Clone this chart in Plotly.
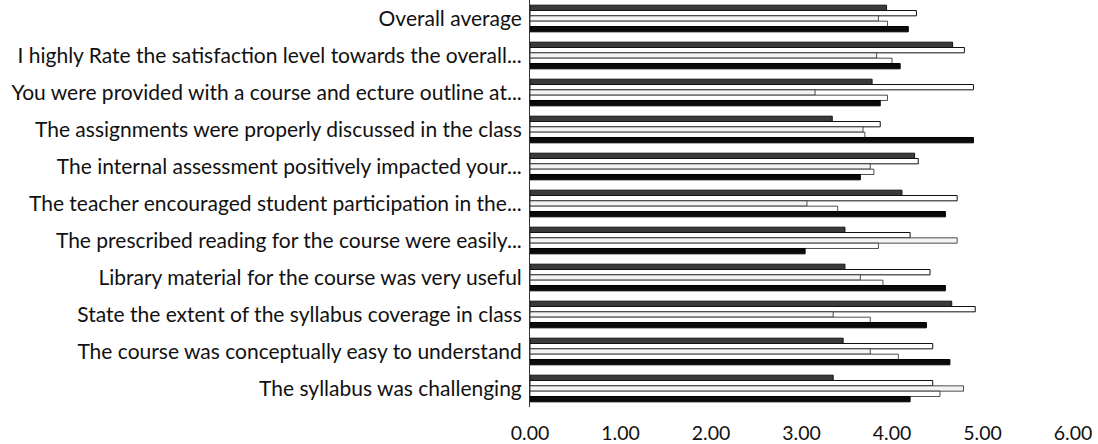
import plotly.graph_objects as go

categories = [
    "Overall average",
    "I highly Rate the satisfaction level towards the overall...",
    "You were provided with a course and ecture outline at...",
    "The assignments were properly discussed in the class",
    "The internal assessment positively impacted your...",
    "The teacher encouraged student participation in the...",
    "The prescribed reading for the course were easily...",
    "Library material for the course was very useful",
    "State the extent of the syllabus coverage in class",
    "The course was conceptually easy to understand",
    "The syllabus was challenging",
]

series_1 = [3.94, 4.67, 3.78, 3.34, 4.25, 4.11, 3.48, 3.48, 4.66, 3.46, 3.35]
series_2 = [4.27, 4.80, 4.90, 3.87, 4.29, 4.72, 4.20, 4.42, 4.92, 4.45, 4.45]
series_3 = [3.85, 3.83, 3.15, 3.68, 3.76, 3.06, 4.72, 3.65, 3.35, 3.76, 4.79]
series_4 = [3.95, 4.00, 3.95, 3.70, 3.80, 3.40, 3.85, 3.90, 3.76, 4.07, 4.53]
series_5 = [4.18, 4.09, 3.87, 4.90, 3.65, 4.59, 3.04, 4.59, 4.38, 4.64, 4.20]

x_ticks = [0, 1, 2, 3, 4, 5, 6]

styles = [
    dict(color="#3a3a3a", line=dict(color="#111", width=1)),
    dict(color="#ffffff", line=dict(color="#111", width=1)),
    dict(color="#f4f4f4", line=dict(color="#222", width=0.8)),
    dict(color="#ffffff", line=dict(color="#222", width=0.8)),
    dict(color="#0a0a0a", line=dict(color="#000", width=1)),
]

fig = go.Figure()
for name, vals, st in zip(["S1", "S2", "S3", "S4", "S5"],
                          [series_1, series_2, series_3, series_4, series_5], styles):
    fig.add_trace(go.Bar(y=categories, x=vals, orientation="h", name=name,
                         marker=st, showlegend=False))

fig.update_layout(
    width=1098, height=444,
    margin=dict(l=530, r=25, t=0, b=37),
    barmode="group", bargap=0.28, bargroupgap=0,
    plot_bgcolor="white", paper_bgcolor="white",
    font=dict(family="Lato", size=21, color="#111"),
)
fig.update_xaxes(range=[0, 6], tickvals=x_ticks, tickformat=".2f",
                 showgrid=False, zeroline=False, showline=False,
                 ticks="outside", ticklen=9, tickcolor="rgba(0,0,0,0)",
                 tickfont=dict(size=19.5), automargin=False)
fig.update_yaxes(autorange="reversed", showgrid=False, showline=True,
                 linecolor="#333", linewidth=1,
                 ticks="outside", ticklen=3, tickcolor="rgba(0,0,0,0)",
                 tickfont=dict(size=21), automargin=False)

fig.write_html("out.html", config={"displayModeBar": False},
               post_script="document.body.style.margin='0';")
